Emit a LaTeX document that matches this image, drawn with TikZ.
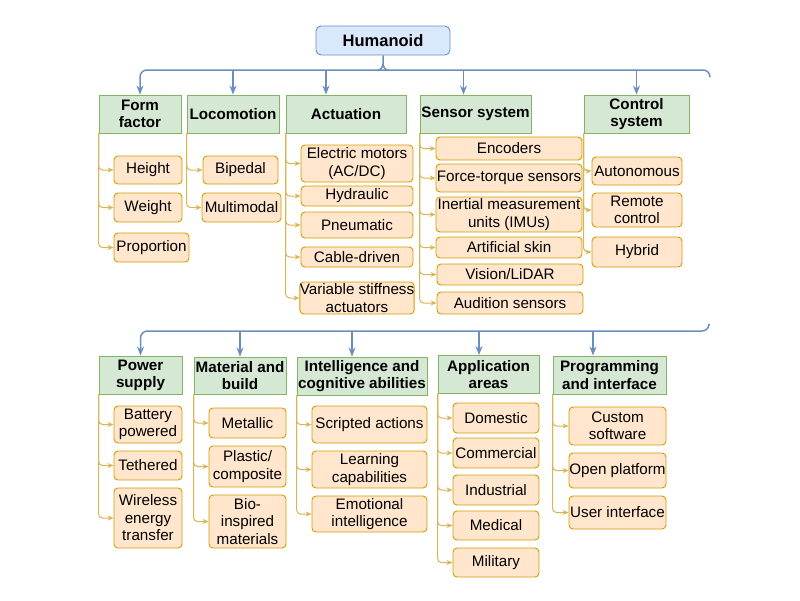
\documentclass[tikz,border=0pt]{standalone}
\usepackage{fontspec}
\setmainfont{Liberation Sans}
\usetikzlibrary{arrows.meta}
\definecolor{bstroke}{HTML}{6C8EBF}
\definecolor{bfill}{HTML}{DAE8FC}
\definecolor{gfill}{HTML}{D5E8D4}
\definecolor{gstroke}{HTML}{82B366}
\definecolor{ofill}{HTML}{FFE6CC}
\definecolor{ostroke}{HTML}{D79B00}
\definecolor{ystroke}{HTML}{D6B656}
\newcommand\mkbox[6]{\node[#1, minimum width=#4pt, minimum height=#5pt] (#2) at (#3) {#6};}
\begin{document}
\begin{tikzpicture}[x=1pt,y=-1pt,
  box/.style={draw, align=center, inner sep=0pt, line width=0.9pt},
  hum/.style={box, fill=bfill, draw=bstroke, rounded corners=5pt, font=\bfseries\fontsize{16.5}{19}\selectfont},
  hdr/.style={box, fill=gfill, draw=gstroke, font=\bfseries\fontsize{15.2}{17.2}\selectfont},
  leaf/.style={box, fill=ofill, draw=ostroke, rounded corners=4pt, font=\fontsize{15.2}{17.5}\selectfont},
  bline/.style={draw=bstroke, line width=1.5pt},
  barrow/.style={bline, -{Stealth[length=9pt,width=7pt]}},
  carrow/.style={draw=ystroke, line width=1pt, rounded corners=4pt, -{Stealth[length=6pt,width=5pt]}}]
\useasboundingbox (0,0) rectangle (800,600);
% root
\mkbox{hum}{hum}{383,40.5}{134}{29}{Humanoid}
% row 1 headers
\mkbox{hdr}{ff}{140,114}{82}{38}{Form\\factor}
\mkbox{hdr}{loc}{233,114}{92}{38}{Locomotion}
\mkbox{hdr}{act}{346,114}{120}{38}{Actuation}
\mkbox{hdr}{sen}{475.5,114}{111}{38}{Sensor system}
\mkbox{hdr}{ctl}{636.5,114}{105}{38}{Control\\system}
% row 1 leaves
\mkbox{leaf}{height}{148,170}{68}{28}{Height}
\mkbox{leaf}{weight}{148,207.5}{68}{29}{Weight}
\mkbox{leaf}{prop}{151.5,247.5}{75}{29}{Proportion}
\mkbox{leaf}{biped}{240.5,170}{75}{28}{Bipedal}
\mkbox{leaf}{multi}{241.5,207.5}{79}{29}{Multimodal}
\mkbox{leaf}{elec}{357,163.5}{112}{37}{Electric motors\\(AC/DC)}
\mkbox{leaf}{hydr}{357,196}{112}{20}{Hydraulic}
\mkbox{leaf}{pneu}{357,225}{112}{26}{Pneumatic}
\mkbox{leaf}{cable}{357,257}{112}{20}{Cable-driven}
\mkbox{leaf}{vsa}{357,298}{112}{32}{Variable stiffness\\actuators}
\mkbox{leaf}{enc}{509,148.5}{146}{23}{Encoders}
\mkbox{leaf}{ft}{509,178}{146}{28}{Force-torque sensors}
\mkbox{leaf}{imu}{509,214.5}{146}{35}{Inertial measurement\\units (IMUs)}
\mkbox{leaf}{skin}{509,247.5}{146}{21}{Artificial skin}
\mkbox{leaf}{vis}{510,274.5}{146}{21}{Vision/LiDAR}
\mkbox{leaf}{aud}{510,303}{146}{22}{Audition sensors}
\mkbox{leaf}{auto}{637,171}{90}{28}{Autonomous}
\mkbox{leaf}{remote}{637,210}{90}{34}{Remote\\control}
\mkbox{leaf}{hyb}{637,252}{90}{30}{Hybrid}
% row 2 headers
\mkbox{hdr}{pow}{140.5,375}{83}{38}{Power\\supply}
\mkbox{hdr}{mat}{240,375.5}{92}{37}{Material and\\build}
\mkbox{hdr}{intel}{362,376}{130}{38}{Intelligence and\\cognitive abilities}
\mkbox{hdr}{app}{488.5,374.5}{101}{38}{Application\\areas}
\mkbox{hdr}{prog}{609.5,375}{113}{38}{Programming\\and interface}
% row 2 leaves
\mkbox{leaf}{batt}{148,424.5}{68}{37}{Battery\\powered}
\mkbox{leaf}{teth}{148,465.5}{68}{29}{Tethered}
\mkbox{leaf}{wire}{148,518}{68}{60}{Wireless\\energy\\transfer}
\mkbox{leaf}{metal}{247.5,423}{77}{30}{Metallic}
\mkbox{leaf}{plast}{247.5,466.5}{77}{41}{Plastic/\\composite}
\mkbox{leaf}{bio}{247.5,521.5}{77}{53}{Bio-\\inspired\\materials}
\mkbox{leaf}{script}{369.5,424.5}{115}{37}{Scripted actions}
\mkbox{leaf}{learn}{369.5,469.5}{115}{37}{Learning\\capabilities}
\mkbox{leaf}{emo}{369.5,514}{115}{36}{Emotional\\intelligence}
\mkbox{leaf}{dom}{496,418}{86}{30}{Domestic}
\mkbox{leaf}{comm}{496,453}{86}{30}{Commercial}
\mkbox{leaf}{ind}{496,490}{86}{30}{Industrial}
\mkbox{leaf}{med}{496,525.5}{86}{29}{Medical}
\mkbox{leaf}{mil}{496,562.5}{86}{29}{Military}
\mkbox{leaf}{cust}{617.5,426}{97}{38}{Custom\\software}
\mkbox{leaf}{open}{617.5,470.5}{97}{35}{Open platform}
\mkbox{leaf}{ui}{617.5,512.5}{97}{33}{User interface}
% blue brace, row 1
\coordinate (bar) at (0,70);
\coordinate (rend) at (710,77);
\draw[barrow, rounded corners=7pt] (rend) |- (bar -| ff.north) -- (ff.north);
\draw[bline] (hum.south) -- ++(0,8) to[out=-90,in=0] ++(-6,7);
\draw[bline] (hum.south) ++(0,8) to[out=-90,in=180] ++(6,7);
\draw[barrow] (bar -| loc.north) -- (loc.north);
\coordinate (actin) at ([xshift=-20pt]act.north);
\draw[barrow] (bar -| actin) -- (actin);
\coordinate (senin) at ([xshift=-12pt]sen.north);
\draw[barrow] (bar -| senin) -- (senin);
\draw[barrow] (bar -| ctl.north) -- (ctl.north);
% blue line, row 2
\coordinate (bar2) at (0,331);
\coordinate (rend2) at (709,325);
\draw[barrow, rounded corners=7pt] (rend2) |- (bar2 -| pow.north) -- (pow.north);
\draw[barrow] (bar2 -| mat.north) -- (mat.north);
\coordinate (intin) at ([xshift=-10pt]intel.north);
\draw[barrow] (bar2 -| intin) -- (intin);
\coordinate (appin) at ([xshift=-9.5pt]app.north);
\draw[barrow] (bar2 -| appin) -- (appin);
\coordinate (progin) at ([xshift=-16.5pt]prog.north);
\draw[barrow] (bar2 -| progin) -- (progin);
% leaf connectors
\foreach \h/\c in {ff/height,ff/weight,ff/prop,loc/biped,loc/multi,
  act/elec,act/hydr,act/pneu,act/cable,act/vsa,
  sen/enc,sen/ft,sen/imu,sen/skin,sen/vis,sen/aud,
  ctl/auto,ctl/remote,ctl/hyb,
  pow/batt,pow/teth,pow/wire,mat/metal,mat/plast,mat/bio,
  intel/script,intel/learn,intel/emo,
  app/dom,app/comm,app/ind,app/med,app/mil,
  prog/cust,prog/open,prog/ui}
  \draw[carrow] (\h.south west) |- (\c.west);
\end{tikzpicture}
\end{document}
